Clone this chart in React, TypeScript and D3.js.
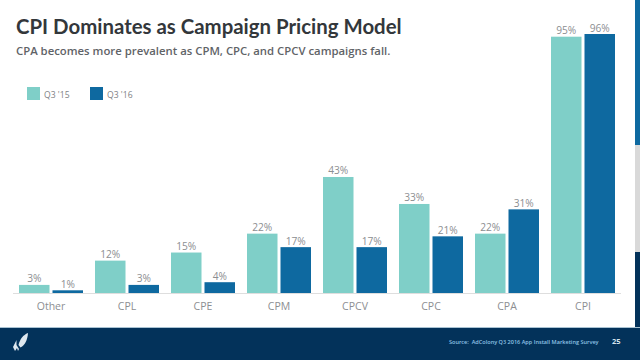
import React from "react";
import * as d3 from "d3";

const categories = ["Other", "CPL", "CPE", "CPM", "CPCV", "CPC", "CPA", "CPI"];
const q315 = [3, 12, 15, 22, 43, 33, 22, 95];
const q316 = [1, 3, 4, 17, 17, 21, 31, 96];
const seriesNames = ["Q3 '15", "Q3 '16"];

const font = "'Open Sans', sans-serif";
const headFont = "Lato, 'Open Sans', sans-serif";
const teal = "#7fcfc8";
const blue = "#0e69a0";

export default function App() {
  const x0 = d3.scaleBand().domain(categories).range([13, 621]).paddingInner(0).paddingOuter(0);
  const y = d3.scaleLinear().domain([0, 96]).range([293, 34]);
  const bw = 30.5;
  return (
    <svg width={640} height={360} viewBox="0 0 640 360" style={{ position: "fixed", left: 0, top: 0, display: "block", background: "#fff" }}>
      <rect x={635} y={0} width={5} height={145} fill="#0e69a0" />
      <rect x={635} y={145} width={5} height={107} fill="#d9d9d9" />
      <rect x={635} y={252} width={5} height={76} fill="#03325a" />
      <rect x={0} y={327} width={640} height={1} fill="#a9c3d3" />
      <rect x={0} y={328} width={640} height={32} fill="#03325a" />
      <text x={16} y={33.5} fontFamily={headFont} fontWeight={700} fontSize={20.4} fill="#33373b">CPI Dominates as Campaign Pricing Model</text>
      <text x={16} y={54.5} fontFamily={font} fontWeight={600} fontSize={11.35} fill="#5f6367">CPA becomes more prevalent as CPM, CPC, and CPCV campaigns fall.</text>
      {seriesNames.map((s, i) => (
        <g key={s}>
          <rect x={27 + i * 63} y={87} width={13} height={13} fill={i === 0 ? teal : blue} />
          <text x={44 + i * 63} y={98} fontFamily={font} fontSize={8.6} fill="#808285">{s}</text>
        </g>
      ))}
      <line x1={13} x2={621} y1={293.5} y2={293.5} stroke="#dedede" />
      {categories.map((c, i) => {
        const gx = x0(c)! + 6;
        const cx = gx + 32;
        return (
          <g key={c}>
            <rect x={gx} y={y(q315[i])} width={bw} height={293 - y(q315[i])} fill={teal} />
            <rect x={gx + 33.5} y={y(q316[i])} width={bw} height={293 - y(q316[i])} fill={blue} />
            <text x={gx + bw / 2} y={y(q315[i]) - 2.5} textAnchor="middle" fontFamily={font} fontSize={10.2} fill="#8c8e91">{q315[i]}%</text>
            <text x={gx + 33.5 + bw / 2} y={y(q316[i]) - 2.5} textAnchor="middle" fontFamily={font} fontSize={10.2} fill="#8c8e91">{q316[i]}%</text>
            <text x={cx} y={310} textAnchor="middle" fontFamily={font} fontSize={10.5} fill="#8c8e91">{c}</text>
          </g>
        );
      })}
      <text x={449} y={344} fontFamily={font} fontWeight={600} fontSize={5.55} fill="#8fc3e6" xmlSpace="preserve">Source:  AdColony Q3 2016 App Install Marketing Survey</text>
      <text x={612} y={344} fontFamily={font} fontWeight={700} fontSize={7.5} fill="#d5e3ee">25</text>
      <g fill="#dfe8ef">
        <path d="M28 333 C23 335 20 339 18.5 345 L20.5 347.5 C25 345 27.5 340 28 333 Z" />
        <path d="M16.5 340 L13 347 L15 351 L17 348 L18 351 L19 349 L16.5 345 Z" />
      </g>
    </svg>
  );
}
